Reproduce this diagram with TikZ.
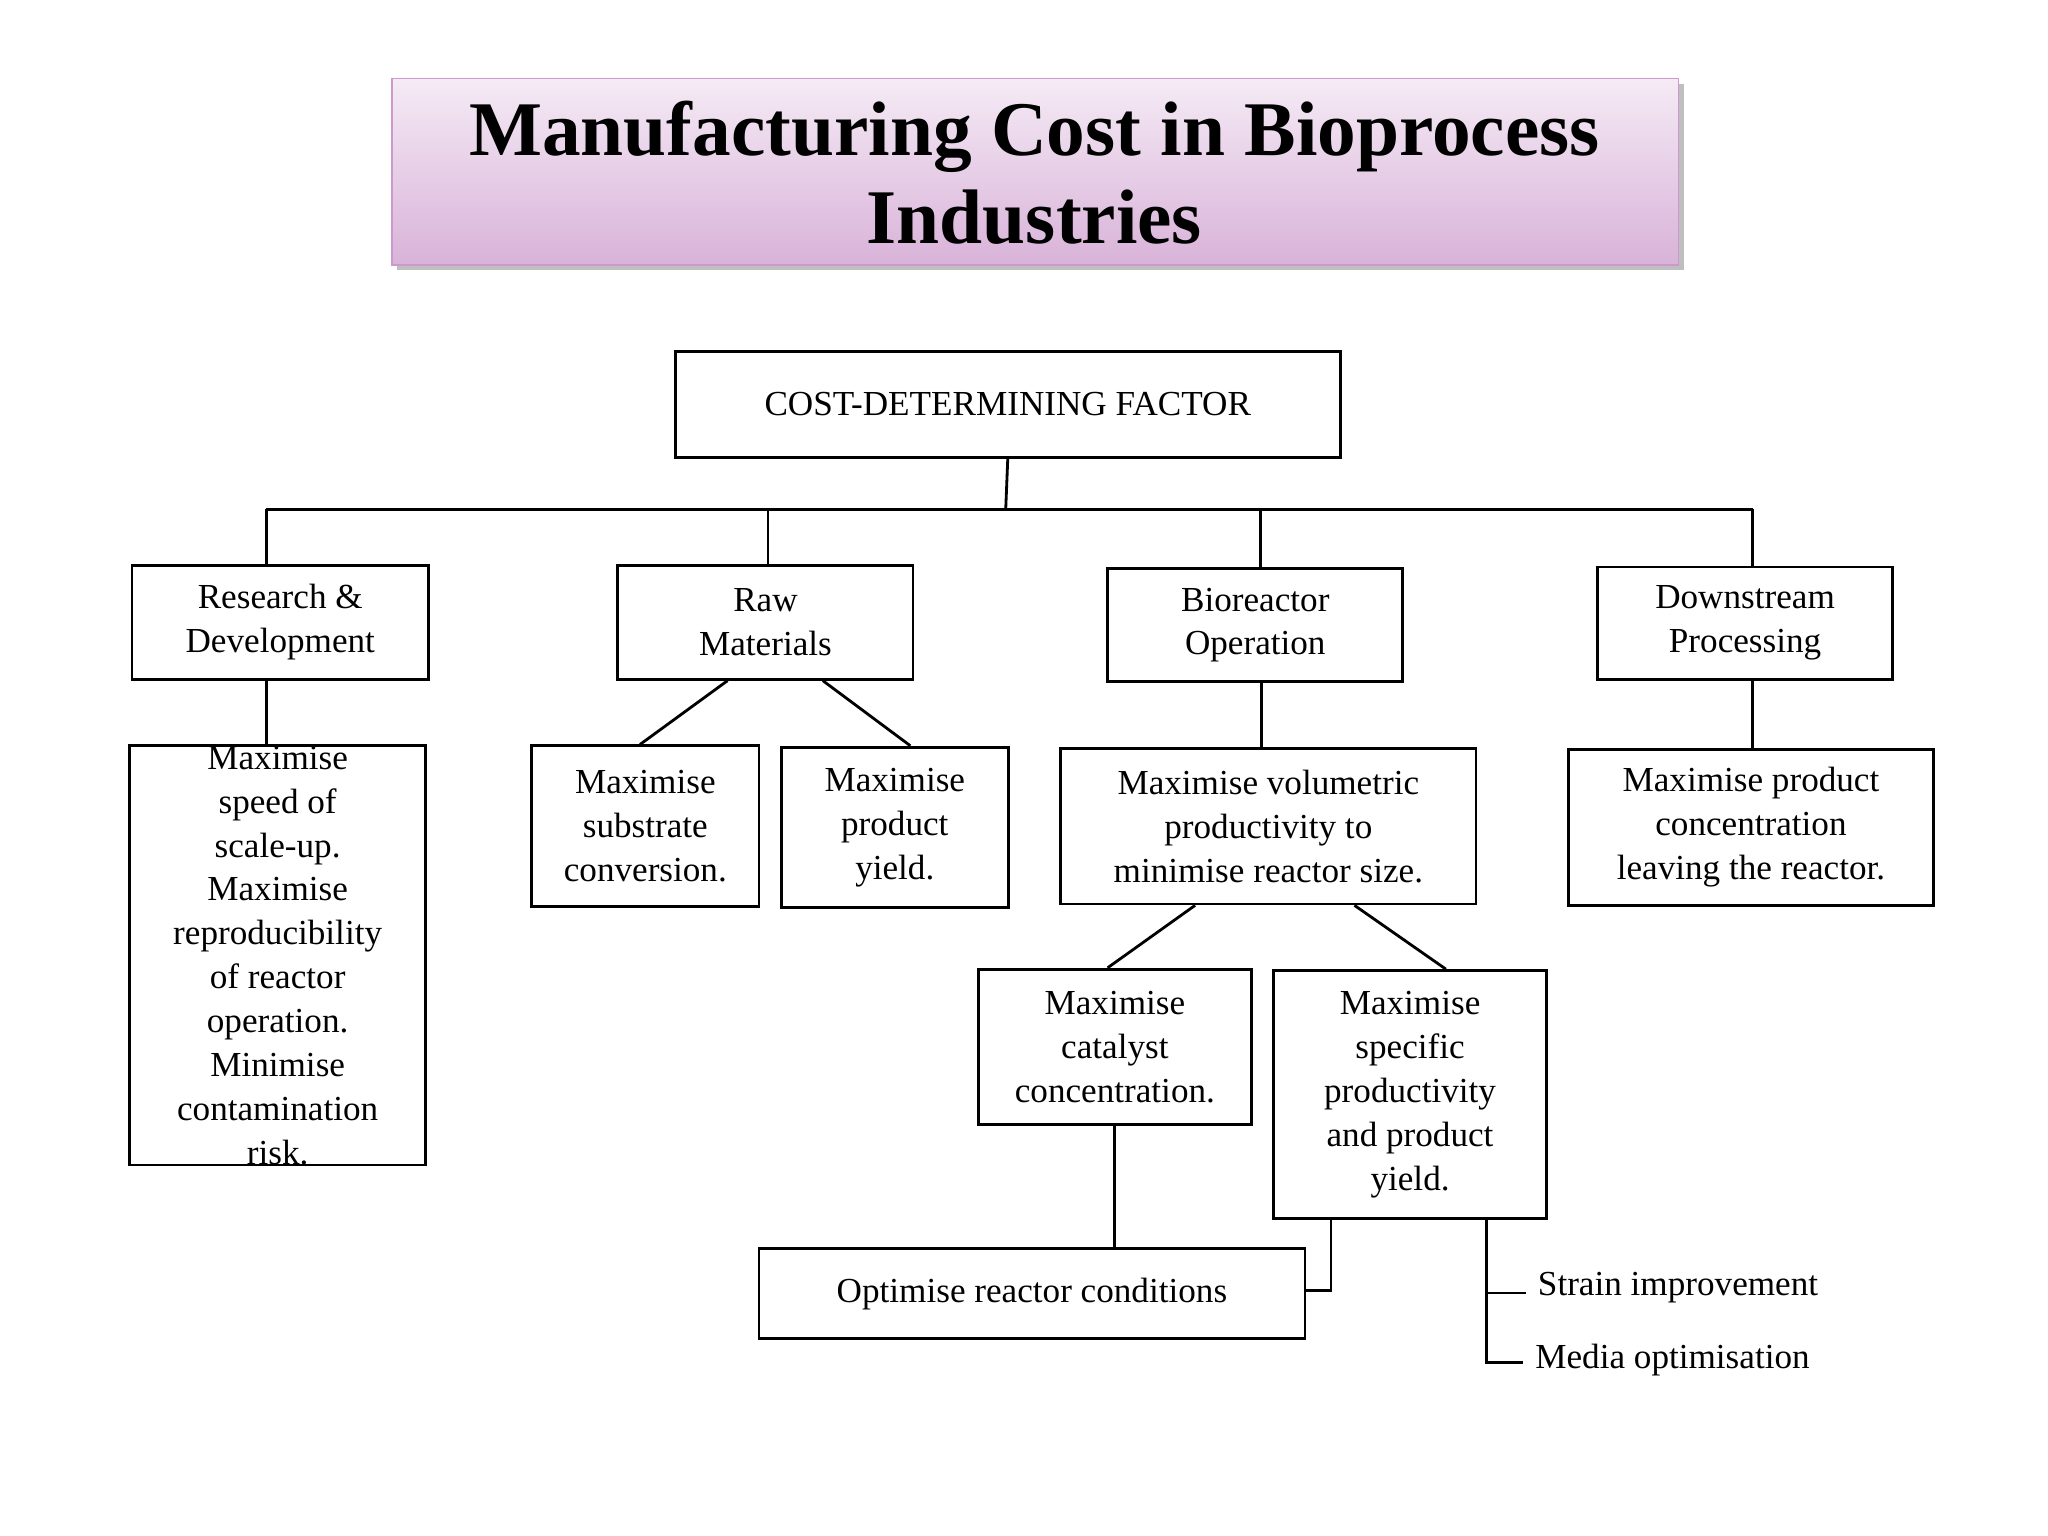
\documentclass[tikz,border=0pt]{standalone}
\usepackage{fontspec}
\setmainfont{Liberation Serif}
\usetikzlibrary{shadows}
\begin{document}
\begin{tikzpicture}[x=0.013061cm,y=-0.013061cm,
  bx/.style={draw,thick,align=center,inner sep=0pt,font=\fontsize{10}{12.5}\selectfont},
  ln/.style={thick}]
\useasboundingbox (0,0) rectangle (1568,1176);
\fill[white] (0,0) rectangle (1568,1176);
% title
\fill[gray!50] (304,64) rectangle (1289,207);
\shade[top color=violet!8,bottom color=violet!30,draw=violet!40] (300,60) rectangle (1285,203);
\node[align=center,font=\fontsize{22}{25}\selectfont\bfseries] (title) at (792,132) {Manufacturing Cost in Bioprocess\\Industries};
% boxes
\newcommand\bbox[6]{\node[bx,minimum width={(#4-#2)*0.013061cm},minimum height={(#5-#3)*0.013061cm},anchor=north west] (#1) at (#2,#3) {#6};}
\bbox{cost}{516}{268}{1025}{349}{COST-DETERMINING FACTOR}
\bbox{rd}{100}{432}{327}{519}{Research \&\\Development}
\bbox{raw}{472}{432}{698}{519}{Raw\\Materials}
\bbox{bio}{847}{434}{1073}{521}{Bioreactor\\Operation}
\bbox{down}{1222}{433}{1448}{519}{Downstream\\Processing}
\bbox{rdc}{98}{570}{325}{884}{Maximise\\speed of\\scale-up.\\Maximise\\reproducibility\\of reactor\\operation.\\Minimise\\contamination\\risk.}
\bbox{sub}{406}{570}{580}{693}{Maximise\\substrate\\conversion.}
\bbox{yld}{597}{571}{771}{694}{Maximise\\product\\yield.}
\bbox{vol}{811}{572}{1129}{691}{Maximise volumetric\\productivity to\\minimise reactor size.}
\bbox{conc}{1200}{573}{1479}{692}{Maximise product\\concentration\\leaving the reactor.}
\bbox{cat}{748}{741}{957}{860}{Maximise\\catalyst\\concentration.}
\bbox{spec}{974}{742}{1183}{932}{Maximise\\specific\\productivity\\and product\\yield.}
\bbox{opt}{580}{955}{998}{1024}{Optimise reactor conditions}
\node[anchor=west,font=\fontsize{10}{12}\selectfont] (strain) at (1168,986) {Strain improvement};
\node[anchor=west,font=\fontsize{10}{12}\selectfont] (media) at (1166,1041) {Media optimisation};
% connectors
\draw[ln] (cost.south) -- (770,390);
\draw[ln] (204,390) -- (1342,390);
\draw[ln] (204,390) -- (rd.north -| 204,0);
\draw[ln] (588,390) -- (raw.north -| 588,0);
\draw[ln] (965,390) -- (bio.north -| 965,0);
\draw[ln] (1342,390) -- (down.north -| 1342,0);
\draw[ln] (rd.south -| 204,0) -- (rdc.north -| 204,0);
\draw[ln] (raw.south -| 557,0) -- (sub.north -| 490,0);
\draw[ln] (raw.south -| 630,0) -- (yld.north -| 697,0);
\draw[ln] (bio.south -| 966,0) -- (vol.north -| 966,0);
\draw[ln] (down.south -| 1342,0) -- (conc.north -| 1342,0);
\draw[ln] (vol.south -| 915,0) -- (cat.north -| 848,0);
\draw[ln] (vol.south -| 1037,0) -- (spec.north -| 1107,0);
\draw[ln] (cat.south -| 853,0) -- (opt.north -| 853,0);
\draw[ln] (spec.south -| 1019,0) -- (1019,988) -- (opt.east |- 0,988);
\draw[ln] (spec.south -| 1138,0) -- (1138,1043) -- (media.west |- 0,1043);
\draw[ln] (1138,990) -- (strain.west |- 0,990);
\end{tikzpicture}
\end{document}
